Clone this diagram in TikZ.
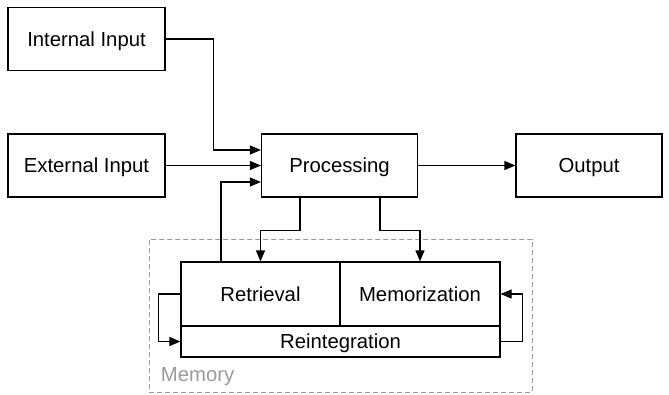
\documentclass[tikz,border=0pt]{standalone}
\usepackage{fontspec}
\setmainfont{Liberation Sans}
\usepackage{xcolor}
\usepackage{tikz}
\usetikzlibrary{arrows.meta}

\definecolor{memgray}{HTML}{9A9A9A}

\begin{document}
\begin{tikzpicture}[x=1pt, y=-1pt, line width=1.2pt,
	every node/.style={font=\fontsize{20.3}{24}\selectfont},
	block/.style={rectangle, draw, inner sep=0pt, minimum height=63pt, text height=14.6pt, text depth=0pt},
	arr/.style={-{Triangle[length=11pt, width=9pt]}},
	memframe/.style={rectangle, draw=memgray, dashed, dash pattern=on 5pt off 3pt, line width=0.9pt, inner sep=0pt}]
	\useasboundingbox (0,0) rectangle (669,394);
	% Nodes
	\node[block, minimum width=157pt] (int) at (86.5,39) {Internal Input};
	\node[block, minimum width=157pt] (ext) at (86.5,165.5) {External Input};
	\node[block, minimum width=156pt] (proc) at (339.5,165.5) {Processing};
	\node[block, minimum width=146pt] (out) at (589,165.5) {Output};
	\node[memframe, minimum width=383pt, minimum height=153pt] (memory) at (340.5,315.5) {};
	\node[anchor=base west, text=memgray] (memlabel) at (157,381) {Memory};
	\node[block, minimum width=159pt, minimum height=64pt] (ret) at (260.5,294) {Retrieval};
	\node[block, minimum width=160pt, minimum height=64pt] (mem) at (420,294) {Memorization};
	\node[block, minimum width=319pt, minimum height=31pt] (reint) at (340.5,341.5) {Reintegration};
	% Edges
	\draw[arr] (int.east) -- ++(48,0) |- ([yshift=15.5pt]proc.west);
	\draw[arr] (ext) -- (proc);
	\draw[arr] ([xshift=-39.5pt]ret.north) |- ([yshift=-16.5pt]proc.west);
	\draw[arr] (proc) -- (out);
	\draw[arr] ([xshift=-39.5pt]proc.south) -- ++(0,33) -| (ret.north);
	\draw[arr] ([xshift=40.5pt]proc.south) -- ++(0,33) -| (mem.north);
	% Loops inside memory
	\draw[arr] (ret.west) -- ++(-22,0) |- (reint.west);
	\draw[arr] (reint.east) -- ++(22,0) |- (mem.east);
\end{tikzpicture}
\end{document}
